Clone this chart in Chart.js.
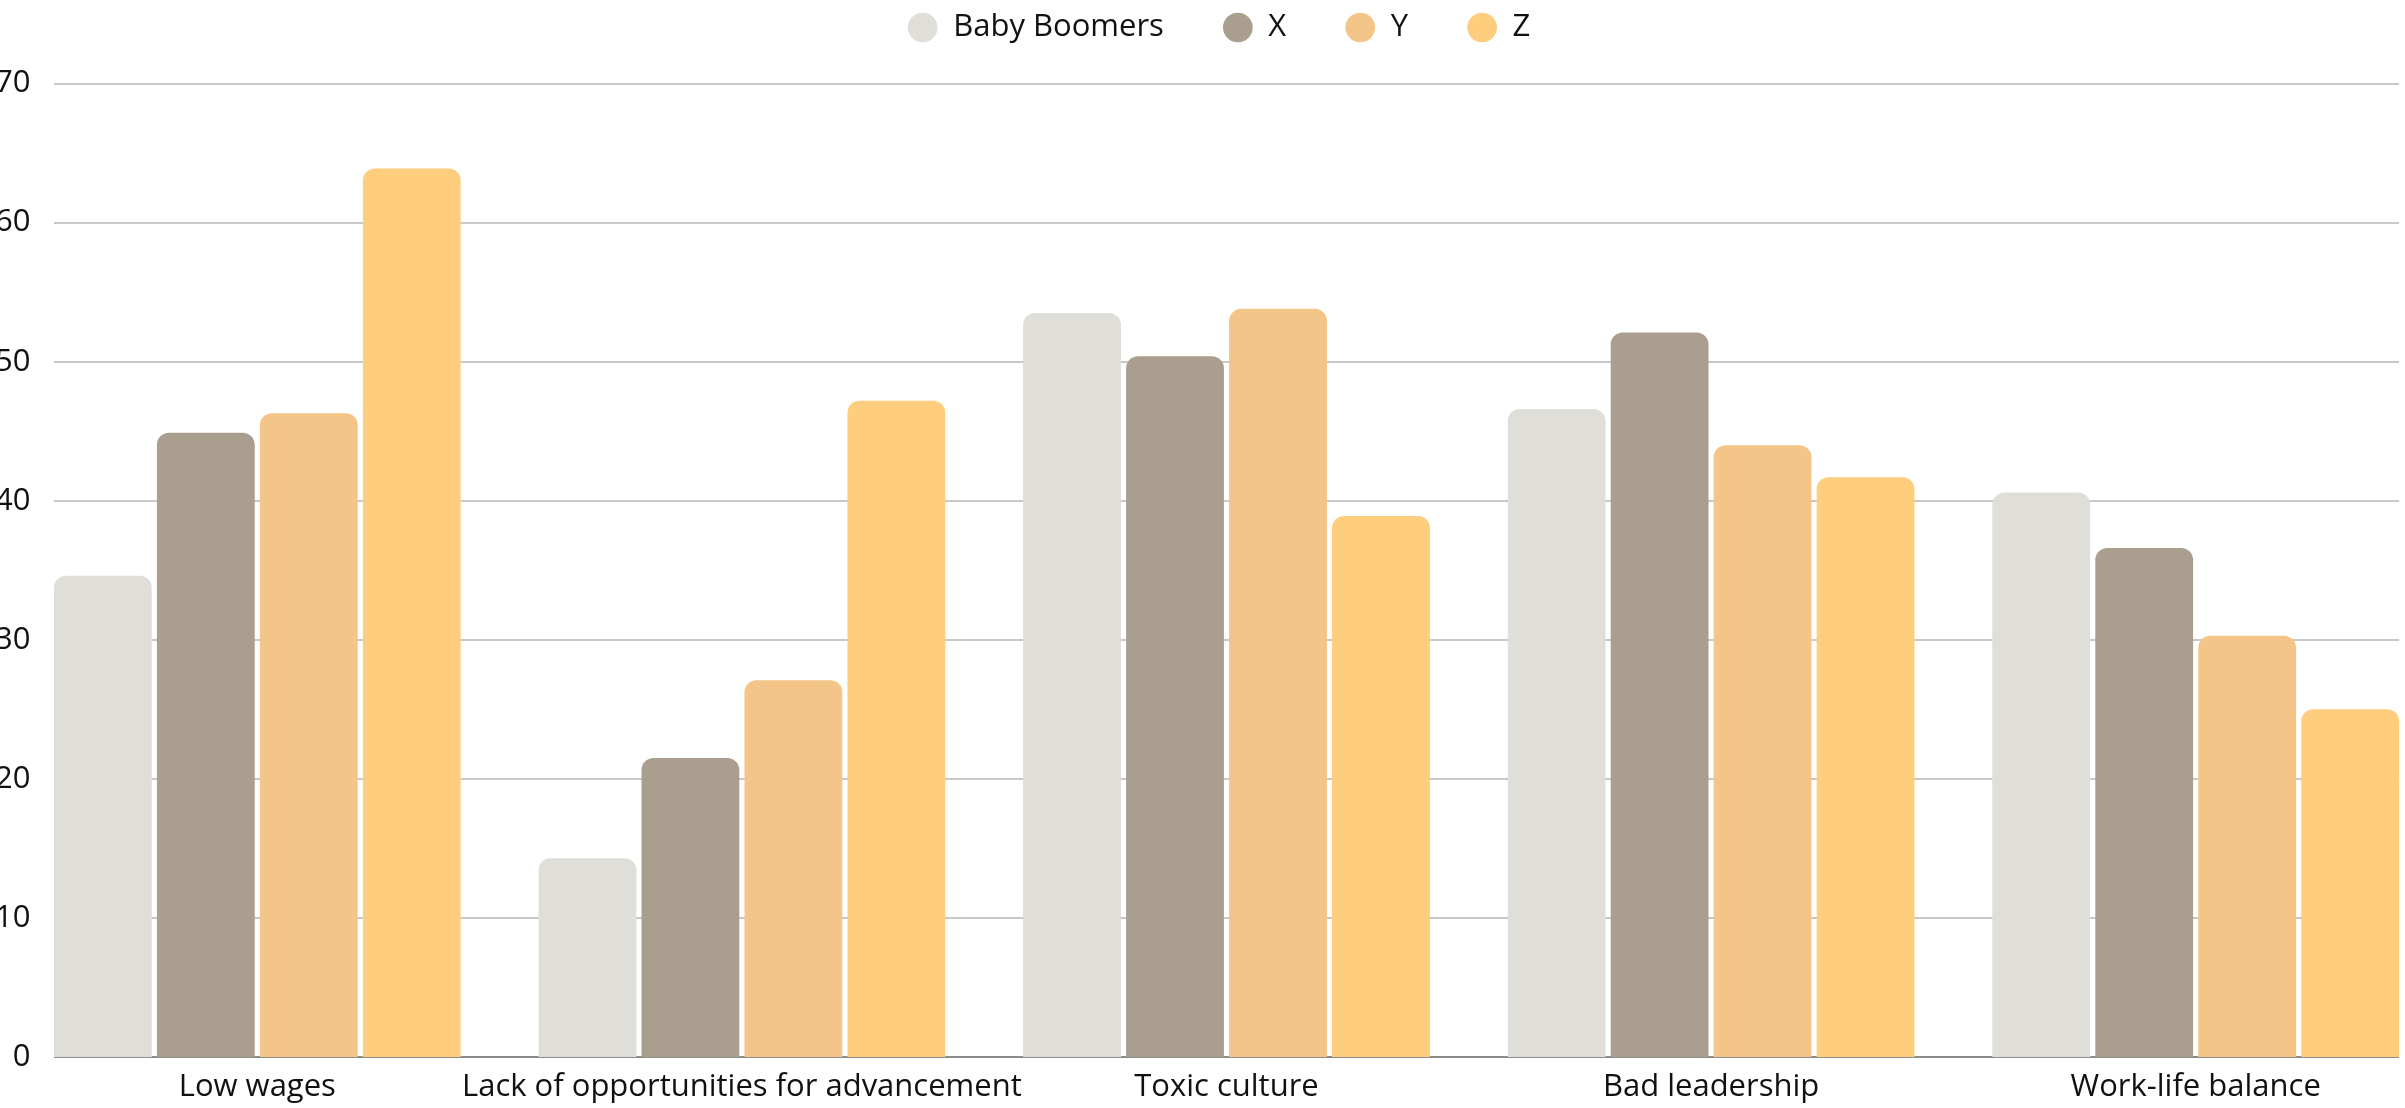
<!DOCTYPE html>
<html>
<head>
<meta charset="utf-8">
<script src="https://cdn.jsdelivr.net/npm/chart.js@4.4.1/dist/chart.umd.min.js"></script>
<style>
html, body { margin: 0; padding: 0; background: #ffffff; overflow: hidden; width: 2405px; height: 1108px; }
#wrap { position: absolute; left: 0; top: 0; width: 2438px; height: 1108px; }
canvas { display: block; }
</style>
</head>
<body>
<div id="wrap"><canvas id="chart" width="2438" height="1108"></canvas></div>
<script>
// ---- Data ----
const categories = ["Low wages", "Lack of opportunities for advancement", "Toxic culture", "Bad leadership", "Work-life balance"];
const seriesNames = ["Baby Boomers", "X", "Y", "Z"];
const babyBoomers = [34.6, 14.3, 53.5, 46.6, 40.6];
const genX = [44.9, 21.5, 50.4, 52.1, 36.6];
const genY = [46.3, 27.1, 53.8, 44.0, 30.3];
const genZ = [63.9, 47.2, 38.9, 41.7, 25.0];
const yMin = 0;
const yMax = 72.2;
const yStep = 10;

// ---- Styles ----
const seriesColors = ["#e0ded8", "#aa9e8f", "#f3c588", "#fecd7d"];
const seriesValues = [babyBoomers, genX, genY, genZ];

Chart.defaults.font.family = "'Open Sans', 'Noto Sans', sans-serif";
Chart.defaults.font.size = 31;
Chart.defaults.color = "#111111";

// Horizontal grid lines spanning the bar groups, drawn beneath the bars
const barGridPlugin = {
  id: "barGrid",
  beforeDatasetsDraw(chart) {
    const ctx = chart.ctx;
    const yScale = chart.scales.y;
    const firstMeta = chart.getDatasetMeta(0);
    const lastMeta = chart.getDatasetMeta(chart.data.datasets.length - 1);
    const first = firstMeta.data[0];
    const last = lastMeta.data[lastMeta.data.length - 1];
    const x1 = first.x - first.width / 2;
    const x2 = last.x + last.width / 2;
    ctx.save();
    yScale.ticks.forEach(t => {
      const py = Math.round(yScale.getPixelForValue(t.value));
      ctx.beginPath();
      ctx.lineWidth = 2;
      ctx.strokeStyle = t.value === 0 ? "#8c8c8c" : "#c8c8c8";
      ctx.moveTo(x1, py);
      ctx.lineTo(x2, py);
      ctx.stroke();
    });
    ctx.restore();
  }
};

const datasets = seriesNames.map((name, i) => ({
  label: name,
  data: seriesValues[i],
  backgroundColor: seriesColors[i],
  borderWidth: 0,
  borderRadius: 12,
  borderSkipped: "start",
  categoryPercentage: 0.85,
  barPercentage: 0.95
}));

new Chart(document.getElementById("chart"), {
  type: "bar",
  data: { labels: categories, datasets },
  plugins: [barGridPlugin],
  options: {
    responsive: false,
    animation: false,
    layout: { padding: { top: -47, left: 0, right: 0, bottom: 0 } },
    plugins: {
      tooltip: { enabled: false },
      legend: {
        position: "top",
        align: "center",
        labels: {
          usePointStyle: true,
          pointStyle: "circle",
          boxWidth: 30,
          boxHeight: 21,
          padding: 59,
          color: "#111111",
          font: { size: 31 }
        }
      }
    },
    scales: {
      x: {
        grid: { display: false, drawTicks: false },
        border: { display: false },
        ticks: { padding: 12, autoSkip: false, maxRotation: 0, color: "#111111", font: { size: 31 } },
        afterFit(scale) { scale.height = 51; }
      },
      y: {
        min: yMin,
        max: yMax,
        grid: { display: false, drawTicks: false },
        border: { display: false },
        ticks: {
          stepSize: yStep,
          includeBounds: false,
          mirror: true,
          crossAlign: "far",
          padding: -20,
          color: "#111111",
          font: { size: 31 }
        },
        afterFit(scale) { scale.width = 15; }
      }
    }
  }
});
</script>
</body>
</html>
